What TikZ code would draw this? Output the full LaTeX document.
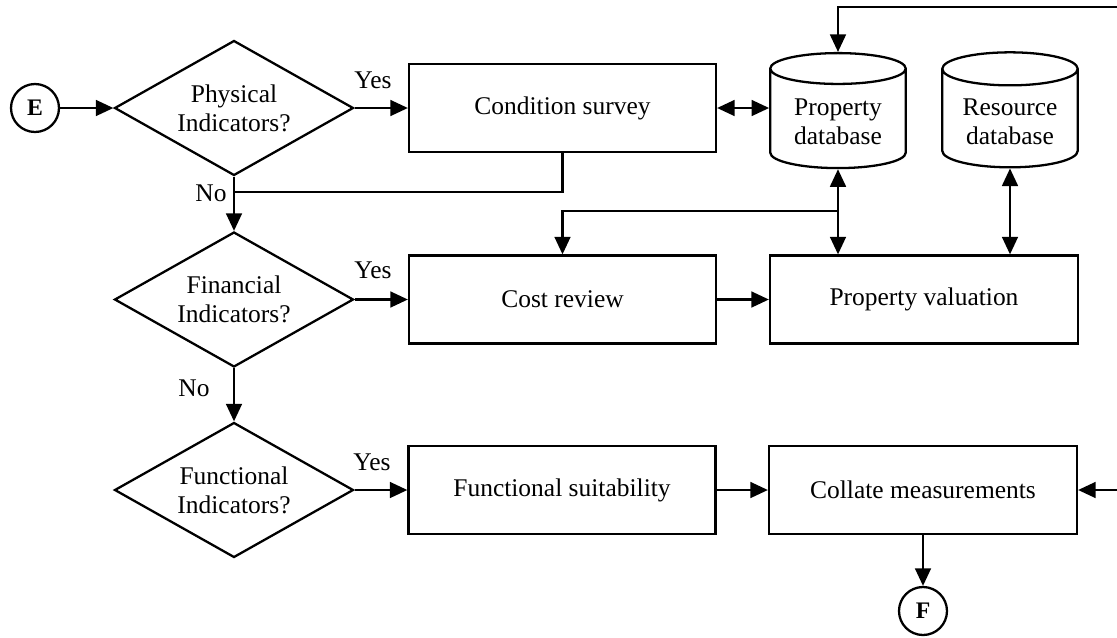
\documentclass[tikz,border=0pt]{standalone}
\usepackage{fontspec}
\setmainfont{Liberation Serif}
\usetikzlibrary{shapes.geometric,arrows.meta}
\begin{document}
\begin{tikzpicture}[x=0.02cm,y=-0.02cm,line width=1.3pt,
  font=\fontsize{14.5}{16.5}\selectfont,
  box/.style={draw, minimum width=6.14cm, minimum height=1.76cm, inner sep=2pt},
  decision/.style={draw, diamond, aspect=1.77, minimum width=4.78cm, minimum height=2.7cm, inner sep=0pt, align=center},
  dbase/.style={draw, cylinder, shape border rotate=90, aspect=0.31, minimum width=2.71cm, minimum height=2.3cm, align=center},
  term/.style={draw, circle, minimum size=0.96cm, inner sep=0pt, font=\fontsize{13.5}{15}\selectfont\bfseries},
  arr/.style={-{Triangle[length=10pt,width=9pt]}},
  dbl/.style={{Triangle[length=10pt,width=9pt]}-{Triangle[length=10pt,width=9pt]}}]
  \useasboundingbox (0,0) rectangle (1117,637);

  % top row
  \node[term] (E) at (35,108) {E};
  \node[decision] (phys) at (234,108) {Physical\\Indicators?};
  \node[box] (cond) at (562.5,108) {Condition survey};
  \node[dbase] (pdb) at (838,122) {Property\\database};
  \node[dbase] (rdb) at (1010,122) {Resource\\database};

  % middle row
  \node[decision] (fin) at (234,299.5) {Financial\\Indicators?};
  \node[box] (cost) at (562.5,299.5) {Cost review};
  \node[box, minimum width=6.16cm] (val) at (924,299.5) {Property valuation};

  % bottom row
  \node[decision] (func) at (234,490) {Functional\\Indicators?};
  \node[box] (suit) at (562,490) {Functional suitability};
  \node[box, minimum width=6.16cm] (coll) at (923,490) {Collate measurements};
  \node[term] (F) at (923,611) {F};

  % labels
  \node (yes1) at (373,80) {Yes};
  \node (yes2) at (373,270) {Yes};
  \node (yes3) at (372,462) {Yes};
  \node (no1) at (211,193) {No};
  \node (no2) at (194,388) {No};

  \coordinate (top) at (1117,7);
  \coordinate (j1) at (234,192);
  \coordinate (j2) at (838,211);
  \coordinate (inR) at (1117,490);

  \draw[arr] (E) -- (phys);
  \draw[arr] (phys) -- (cond);
  \draw[dbl] (cond.east) -- (cond.east -| pdb.west);
  \draw[arr] (top) -| (pdb.north);
  \draw (cond.south) |- (j1);
  \draw[arr] (phys.south) -- (fin.north);
  \draw[dbl] (pdb.south) -- (pdb.south |- val.north);
  \draw[arr] (j2) -| (cost.north);
  \draw[dbl] (rdb.south) -- (rdb.south |- val.north);
  \draw[arr] (fin) -- (cost);
  \draw[arr] (cost) -- (val);
  \draw[arr] (fin.south) -- (func.north);
  \draw[arr] (func) -- (suit);
  \draw[arr] (suit) -- (coll);
  \draw[arr] (inR) -- (coll.east);
  \draw[arr] (coll) -- (F);
\end{tikzpicture}
\end{document}
